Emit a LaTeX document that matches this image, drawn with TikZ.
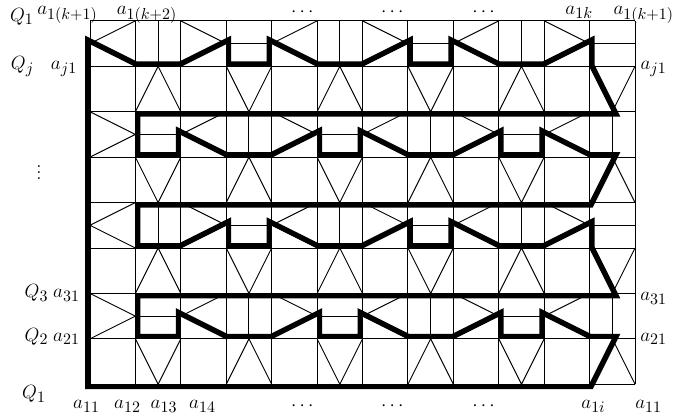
\documentclass[tikz,border=0pt]{standalone}
\usepackage{amsmath,amssymb}
\usepackage{tikz}
\DeclareMathSizes{12}{12}{10}{8}

% closed thick route, clockwise, in cell units
\newcommand{\cyclepath}{(0,7.5) -- (1,7) -- (2,7) -- (3,7.5) -- (3,7) -- (4,7) -- (4,7.5) -- (5,7) -- (6,7)
  -- (7,7.5) -- (7,7) -- (8,7) -- (8,7.5) -- (9,7) -- (10,7) -- (11,7.5) -- (11,7) -- (11.5,6)
  -- (1,6) -- (1,5) -- (2,5) -- (2,5.5) -- (3,5) -- (4,5) -- (5,5.5) -- (5,5) -- (6,5) -- (6,5.5)
  -- (7,5) -- (8,5) -- (9,5.5) -- (9,5) -- (10,5) -- (10,5.5) -- (11,5) -- (11.5,5) -- (11,4)
  -- (1,4) -- (1,3) -- (2,3) -- (3,3.5) -- (3,3) -- (4,3) -- (4,3.5) -- (5,3) -- (6,3)
  -- (7,3.5) -- (7,3) -- (8,3) -- (8,3.5) -- (9,3) -- (10,3) -- (11,3.5) -- (11,3) -- (11.5,2)
  -- (1,2) -- (1,1) -- (2,1) -- (2,1.5) -- (3,1) -- (4,1) -- (5,1.5) -- (5,1) -- (6,1) -- (6,1.5)
  -- (7,1) -- (8,1) -- (9,1.5) -- (9,1) -- (10,1) -- (10,1.5) -- (11,1) -- (11.5,1) -- (11,0)
  -- (0,0)}

\begin{document}
\begin{tikzpicture}[
    gridline/.style={line width=0.6pt, draw=black},
    cellline/.style={line width=0.6pt, draw=black},
    route/.style={line width=6.2pt, line join=miter, miter limit=4, draw=black},
    lbl/.style={font=\large, anchor=base, inner sep=0pt}
]
\useasboundingbox (-1.981,-0.70) rectangle (13.144,8.46);

% grid
\draw[gridline] (0,0) grid (12,8);

% cell pattern, one 4x4 block at a time
\foreach \gx in {0,4,8}{
  \foreach \gy in {0,4}{
    \begin{scope}[shift={(\gx,\gy)}]
      \draw[cellline] (1,4) -- (0,3.5) -- (1,3);
      \draw[cellline] (1.5,4) -- (1.5,3);
      \draw[cellline] (2,4) -- (3,3.5) -- (2,3);
      \draw[cellline] (3,3.5) -- (4,3.5);
      \draw[cellline] (1,2) -- (1.5,3) -- (2,2);
      \draw[cellline] (3,3) -- (3.5,2) -- (4,3);
      \draw[cellline] (0,2) -- (1,1.5) -- (0,1);
      \draw[cellline] (1,1.5) -- (2,1.5);
      \draw[cellline] (3,2) -- (2,1.5) -- (3,1);
      \draw[cellline] (3.5,2) -- (3.5,1);
      \draw[cellline] (1,1) -- (1.5,0) -- (2,1);
      \draw[cellline] (3,0) -- (3.5,1) -- (4,0);
    \end{scope}
  }
}

% thick route, kept outside the region it bounds
\begin{scope}[even odd rule]
  \clip (-3,-2) rectangle (15,10) \cyclepath -- cycle;
  \draw[route] \cyclepath -- cycle;
\end{scope}

% top labels
\node[lbl] (qtop) at (-1.50,7.995) {$Q_1$};
\node[lbl] (tkone) at (-0.495,8.149) {$a_{1(k+1)}$};
\node[lbl] (tktwo) at (1.255,8.149) {$a_{1(k+2)}$};
\node[lbl] (tdotsa) at (4.71,8.10) {$\cdots$};
\node[lbl] (tdotsb) at (6.69,8.10) {$\cdots$};
\node[lbl] (tdotsc) at (8.70,8.10) {$\cdots$};
\node[lbl] (tk) at (10.77,8.149) {$a_{1k}$};
\node[lbl] (tkend) at (12.19,8.149) {$a_{1(k+1)}$};

% left labels
\node[lbl] (qj) at (-1.486,6.93) {$Q_j$};
\node[lbl] (aj) at (-0.572,6.93) {$a_{j1}$};
\node[font=\large, inner sep=0pt] (vd) at (-1.123,4.765) {$\vdots$};
\node[lbl] (qthree) at (-1.178,1.90) {$Q_3$};
\node[lbl] (athree) at (-0.517,1.90) {$a_{31}$};
\node[lbl] (qtwo) at (-1.178,0.95) {$Q_2$};
\node[lbl] (atwo) at (-0.517,0.95) {$a_{21}$};
\node[lbl] (qone) at (-1.233,-0.323) {$Q_1$};

% right labels
\node[lbl] (rj) at (12.41,6.92) {$a_{j1}$};
\node[lbl] (rthree) at (12.41,1.845) {$a_{31}$};
\node[lbl] (rtwo) at (12.41,0.95) {$a_{21}$};

% bottom labels
\node[lbl] (bone) at (-0.077,-0.544) {$a_{11}$};
\node[lbl] (btwo) at (0.826,-0.544) {$a_{12}$};
\node[lbl] (bthree) at (1.63,-0.544) {$a_{13}$};
\node[lbl] (bfour) at (2.477,-0.544) {$a_{14}$};
\node[lbl] (bdotsa) at (4.71,-0.58) {$\cdots$};
\node[lbl] (bdotsb) at (6.69,-0.58) {$\cdots$};
\node[lbl] (bdotsc) at (8.70,-0.58) {$\cdots$};
\node[lbl] (bi) at (11.085,-0.544) {$a_{1i}$};
\node[lbl] (bend) at (12.30,-0.544) {$a_{11}$};
\end{tikzpicture}
\end{document}
